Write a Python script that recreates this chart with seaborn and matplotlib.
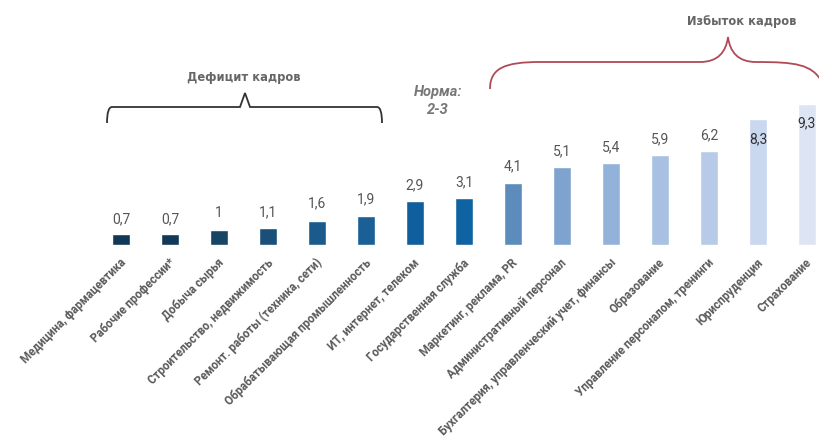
import matplotlib
matplotlib.use("Agg")
import matplotlib.pyplot as plt
from matplotlib.path import Path
from matplotlib.patches import PathPatch
import seaborn as sns
import pandas as pd

# Data: ratio of CVs per vacancy by industry
categories = [
    "Медицина, фармацевтика",
    "Рабочие профессии*",
    "Добыча сырья",
    "Строительство, недвижимость",
    "Ремонт. работы (техника, сети)",
    "Обрабатывающая промышленность",
    "ИТ, интернет, телеком",
    "Государственная служба",
    "Маркетинг, реклама, PR",
    "Административный персонал",
    "Бухгалтерия, управленческий учет, финансы",
    "Образование",
    "Управление персоналом, тренинги",
    "Юриспруденция",
    "Страхование",
]
values = [0.7, 0.7, 1.0, 1.1, 1.6, 1.9, 2.9, 3.1, 4.1, 5.1, 5.4, 5.9, 6.2, 8.3, 9.3]
value_labels = ["0,7", "0,7", "1", "1,1", "1,6", "1,9", "2,9", "3,1",
                "4,1", "5,1", "5,4", "5,9", "6,2", "8,3", "9,3"]
bar_colors = ["#123858", "#123858", "#184466", "#1a4f78", "#1b5b8c", "#1a5f95",
              "#0f5f9f", "#1063a2", "#5b8cbc", "#7ea3cf", "#93b2da", "#a8c1e3",
              "#b7cbe8", "#c9d7ef", "#dde5f5"]

W, H = 819, 447
sns.set_theme(style="white")
plt.rcParams["font.family"] = ["Roboto", "DejaVu Sans"]

fig = plt.figure(figsize=(W / 100, H / 100), dpi=100)
fig.patch.set_facecolor("white")

# axes: baseline at y=245 px, 49 px per category
base_px = 245
step = 49
left_px = 121 - step / 2
ax = fig.add_axes([left_px / W, (H - base_px) / H, step * 15 / W, base_px / H])
px_per_unit = 15.2

df = pd.DataFrame({"cat": categories, "val": values})
sns.barplot(data=df, x="cat", y="val", hue="cat", palette=bar_colors,
            width=0.35, legend=False, ax=ax, saturation=1)
ax.set_xlim(-0.5, 14.5)
ax.set_ylim(0, base_px / px_per_unit)
ax.axis("off")

# value labels
label_offsets = [15, 15, 17, 16, 17, 17, 16, 16, 16, 16, 16, 16, 15, -20, -20]
for i, (v, t, off) in enumerate(zip(values, value_labels, label_offsets)):
    ax.annotate(t, (i, v), xytext=(0, off), textcoords="offset pixels",
                ha="center", va="center", fontsize=10,
                color="#555555" if i < 13 else "#333333")

# rotated category labels
for i, c in enumerate(categories):
    ax.annotate(c, (i, 0), xytext=(3, -16), textcoords="offset pixels",
                ha="right", va="center", rotation=45, rotation_mode="anchor",
                fontsize=8.3, fontweight="bold", color="#5a5a5a")


def fp(x, y):
    return (x / W, (H - y) / H)


# shortage bracket
M, L, C = Path.MOVETO, Path.LINETO, Path.CURVE3
pts = [(107, 123), (107, 107), (112, 107), (240, 107), (245, 93), (250, 107),
       (377, 107), (382, 107), (382, 123)]
codes = [M, C, C, L, L, L, L, C, C]
fig.patches.append(PathPatch(Path([fp(*p) for p in pts], codes), fill=False,
                             edgecolor="#333333", lw=1.3, transform=fig.transFigure))

# surplus brace
C4 = Path.CURVE4
pts2 = [(490, 89), (490, 68), (505, 62), (540, 62), (700, 62),
        (718, 62), (726, 52), (728, 37),
        (730, 52), (738, 62), (756, 62),
        (795, 62), (812, 64), (822, 82)]
codes2 = [M, C4, C4, C4, L, C4, C4, C4, C4, C4, C4, C4, C4, C4]
fig.patches.append(PathPatch(Path([fp(*p) for p in pts2], codes2), fill=False,
                             edgecolor="#b04a57", lw=1.3, transform=fig.transFigure))

head_font = ["DejaVu Sans"]
fig.text(*fp(244, 77), "Дефицит кадров", ha="center", va="center",
         fontsize=8.3, fontweight="bold", color="#666666", family=head_font)
fig.text(*fp(742, 22), "Избыток кадров", ha="center", va="center",
         fontsize=8.3, fontweight="bold", color="#666666", family=head_font)
fig.text(*fp(438, 92), "Норма:", ha="center", va="center",
         fontsize=10.5, fontweight="bold", style="italic", color="#777777")
fig.text(*fp(438, 110), "2-3", ha="center", va="center",
         fontsize=10.5, fontweight="bold", style="italic", color="#777777")

fig.savefig("out.png", dpi=100, facecolor="white")
